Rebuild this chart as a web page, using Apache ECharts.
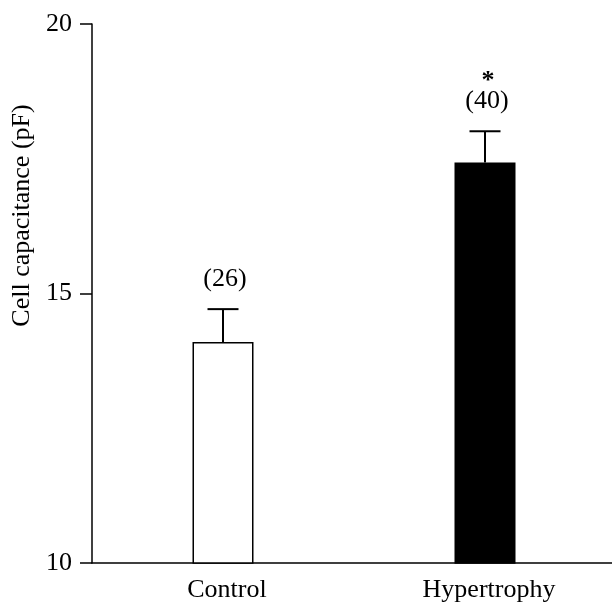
<!DOCTYPE html>
<html>
<head>
<meta charset="utf-8">
<script src="https://cdn.jsdelivr.net/npm/echarts@6/dist/echarts.min.js"></script>
<style>
  html, body { margin: 0; padding: 0; background: #fff; }
  #chart { width: 612px; height: 603px; }
</style>
</head>
<body>
<div id="chart"></div>
<script>
// data
const groups = ["Control", "Hypertrophy"];
const means = [14.1, 17.43];
const errTop = [14.71, 18.01];
const nLabels = ["(26)", "(40)"];
const sigMarks = ["", "*"];
const barColors = ["#ffffff", "#000000"];
const yTicks = [10, 15, 20];

const font = "Liberation Serif";

var myChart = echarts.init(document.getElementById("chart"));

var option = {
  animation: false,
  grid: {
    left: 92,
    right: -4,
    top: 24,
    bottom: 40,
    containLabel: false,
    outerBoundsMode: "none",
  },
  xAxis: {
    type: "category",
    data: groups,
    axisLine: { lineStyle: { color: "#000", width: 1.5 } },
    axisTick: { show: false },
    axisLabel: {
      color: "#000",
      fontSize: 26,
      fontFamily: font,
      margin: 14,
      padding: [0, 0, 0, 8],
    },
  },
  yAxis: {
    type: "value",
    min: yTicks[0],
    max: yTicks[yTicks.length - 1],
    interval: 5,
    name: "Cell capacitance (pF)",
    nameLocation: "middle",
    nameGap: 56,
    nameRotate: 90,
    nameTextStyle: {
      color: "#000",
      fontSize: 26,
      fontFamily: font,
      padding: [0, 0, 0, 156],
    },
    splitLine: { show: false },
    axisLine: { show: true, lineStyle: { color: "#000", width: 1.5 } },
    axisTick: { show: true, inside: false, length: 12, lineStyle: { color: "#000", width: 1.5 } },
    axisLabel: {
      color: "#000",
      fontSize: 26,
      fontFamily: font,
      margin: 20,
    },
  },
  series: [
    {
      type: "bar",
      barWidth: 61,
      data: means.map((v, i) => ({
        value: v,
        itemStyle: {
          color: barColors[i],
          borderColor: "#000",
          borderWidth: 1.5,
        },
      })),
    },
    {
      type: "custom",
      data: groups.map((g, i) => [i, means[i], errTop[i]]),
      renderItem: function (params, api) {
        var i = api.value(0);
        var base = api.coord([i, api.value(1)]);
        var top = api.coord([i, api.value(2)]);
        var x = base[0];
        var half = 15.5;
        var children = [
          {
            type: "line",
            shape: { x1: x, y1: base[1], x2: x, y2: top[1] },
            style: { stroke: "#000", lineWidth: 2 },
          },
          {
            type: "line",
            shape: { x1: x - half, y1: top[1], x2: x + half, y2: top[1] },
            style: { stroke: "#000", lineWidth: 2 },
          },
          {
            type: "text",
            style: {
              text: nLabels[i],
              x: x + 2,
              y: top[1] - 30,
              fill: "#000",
              font: "26px " + font,
              align: "center",
              verticalAlign: "middle",
            },
          },
        ];
        if (sigMarks[i]) {
          children.push({
            type: "text",
            style: {
              text: sigMarks[i],
              x: x + 3,
              y: top[1] - 50,
              fill: "#000",
              font: "bold 26px " + font,
              align: "center",
              verticalAlign: "middle",
            },
          });
        }
        return { type: "group", children: children };
      },
    },
  ],
};

myChart.setOption(option);
</script>
</body>
</html>
